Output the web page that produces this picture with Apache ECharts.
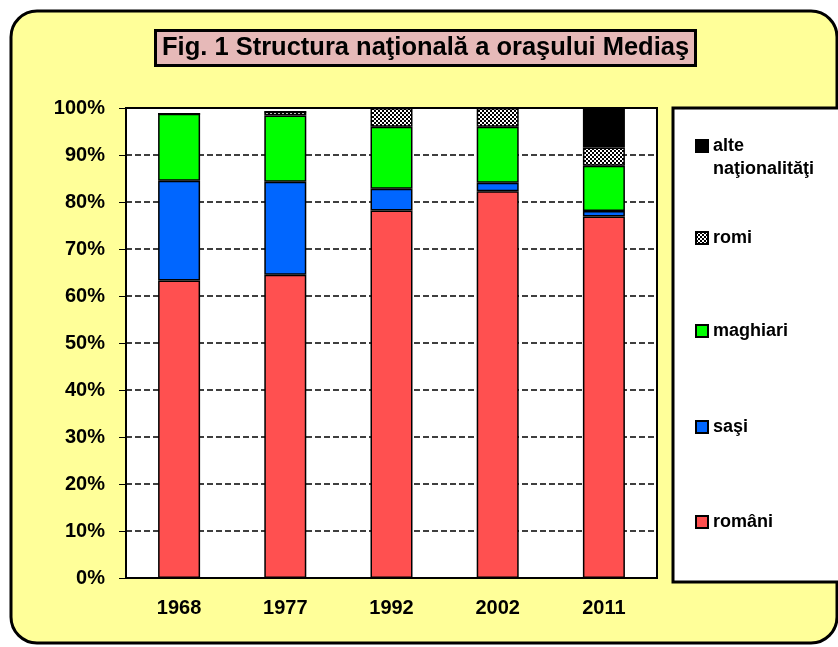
<!DOCTYPE html>
<html>
<head>
<meta charset="utf-8">
<title>Fig. 1 Structura naţională a oraşului Mediaş</title>
<script src="https://cdn.jsdelivr.net/npm/echarts@6/dist/echarts.min.js"></script>
<style>
	html, body { margin: 0; padding: 0; background: #fff; }
	#chart { width: 838px; height: 647px; }
</style>
</head>
<body>
<div id="chart"></div>
<script>
// data (percent of population)
var years = ['1968', '1977', '1992', '2002', '2011'];
var romani = [63.3, 64.5, 78.2, 82.3, 76.9];
var sasi = [21.2, 19.8, 4.6, 1.8, 1.2];
var maghiari = [14.3, 14.1, 13.2, 11.9, 9.6];
var romi = [0, 0.8, 4.0, 4.0, 3.9];
var alte = [0, 0, 0, 0, 8.4];
var yTicks = [0, 10, 20, 30, 40, 50, 60, 70, 80, 90, 100];

var font = "'Liberation Sans', Arial, sans-serif";

// small checker pattern for "romi"
function checkerPattern() {
	var c = document.createElement('canvas');
	c.width = 4;
	c.height = 4;
	var ctx = c.getContext('2d');
	ctx.fillStyle = '#fff';
	ctx.fillRect(0, 0, 4, 4);
	ctx.fillStyle = '#000';
	ctx.fillRect(0, 0, 2, 2);
	ctx.fillRect(2, 2, 2, 2);
	return { image: c, repeat: 'repeat' };
}

function makeSeries(name, values, color) {
	return {
		name: name,
		type: 'bar',
		stack: 'total',
		barWidth: 42,
		data: values,
		itemStyle: { color: color, borderColor: '#000', borderWidth: 1.5 }
	};
}

// one legend per entry, so each one sits where the picture has it
function makeLegend(name, top, extra) {
	var lg = {
		data: [name],
		orient: 'vertical',
		left: 695,
		top: top,
		padding: 0,
		icon: 'rect',
		itemWidth: 12,
		itemHeight: 12,
		selectedMode: false,
		textStyle: { fontFamily: font, fontWeight: 'bold', fontSize: 18, color: '#000' }
	};
	if (extra) {
		Object.keys(extra).forEach(function (k) { lg[k] = extra[k]; });
	}
	return lg;
}

function main() {
	var chart = echarts.init(document.getElementById('chart'));
	var option = {
		animation: false,
		backgroundColor: '#fff',
		graphic: [
			{
				type: 'rect', z: -10,
				shape: { x: 11, y: 11, width: 826, height: 632, r: 26 },
				style: { fill: '#FFFF99', stroke: '#000', lineWidth: 3 }
			},
			{
				type: 'rect', z: -5,
				shape: { x: 673, y: 108, width: 180, height: 474 },
				style: { fill: '#fff', stroke: '#000', lineWidth: 3 }
			}
		],
		title: {
			text: 'Fig. 1 Structura naţională a oraşului Mediaş',
			left: 155,
			top: 30,
			padding: [3, 7, 3, 7],
			backgroundColor: '#E6B9B8',
			borderColor: '#000',
			borderWidth: 3,
			textStyle: { fontFamily: font, fontWeight: 'bold', fontSize: 25.5, lineHeight: 30, color: '#000' }
		},
		legend: [
			makeLegend('alte naţionalităţi', 135, {
				icon: 'path://M0,0L10,0L10,10L0,10Z M10,30',
				itemHeight: 36,
				formatter: function () { return 'alte\nnaţionalităţi'; },
				textStyle: { fontFamily: font, fontWeight: 'bold', fontSize: 18, lineHeight: 23, color: '#000' }
			}),
			makeLegend('romi', 229),
			makeLegend('maghiari', 322),
			makeLegend('saşi', 418),
			makeLegend('români', 513)
		],
		grid: {
			left: 126,
			top: 108,
			right: 181,
			bottom: 69,
			show: true,
			backgroundColor: '#fff',
			borderColor: '#000',
			borderWidth: 2
		},
		xAxis: {
			type: 'category',
			data: years,
			axisLine: { lineStyle: { color: '#000', width: 2 } },
			axisTick: { length: 6, lineStyle: { color: '#000', width: 1 } },
			axisLabel: { margin: 20, fontFamily: font, fontWeight: 'bold', fontSize: 20, color: '#000' }
		},
		yAxis: {
			type: 'value',
			min: yTicks[0],
			max: yTicks[yTicks.length - 1],
			interval: yTicks[1] - yTicks[0],
			axisLine: { show: true, lineStyle: { color: '#000', width: 2 } },
			axisTick: { show: true, length: 7, lineStyle: { color: '#000', width: 1 } },
			axisLabel: {
				margin: 21,
				formatter: '{value}%',
				fontFamily: font, fontWeight: 'bold', fontSize: 20, color: '#000'
			},
			splitLine: { lineStyle: { color: '#000', width: 1.5, type: [6, 3] } }
		},
		series: [
			makeSeries('români', romani, '#FF5050'),
			makeSeries('saşi', sasi, '#0066FF'),
			makeSeries('maghiari', maghiari, '#00FF00'),
			makeSeries('romi', romi, checkerPattern()),
			makeSeries('alte naţionalităţi', alte, '#000')
		]
	};
	chart.setOption(option);
}

main();
</script>
</body>
</html>
